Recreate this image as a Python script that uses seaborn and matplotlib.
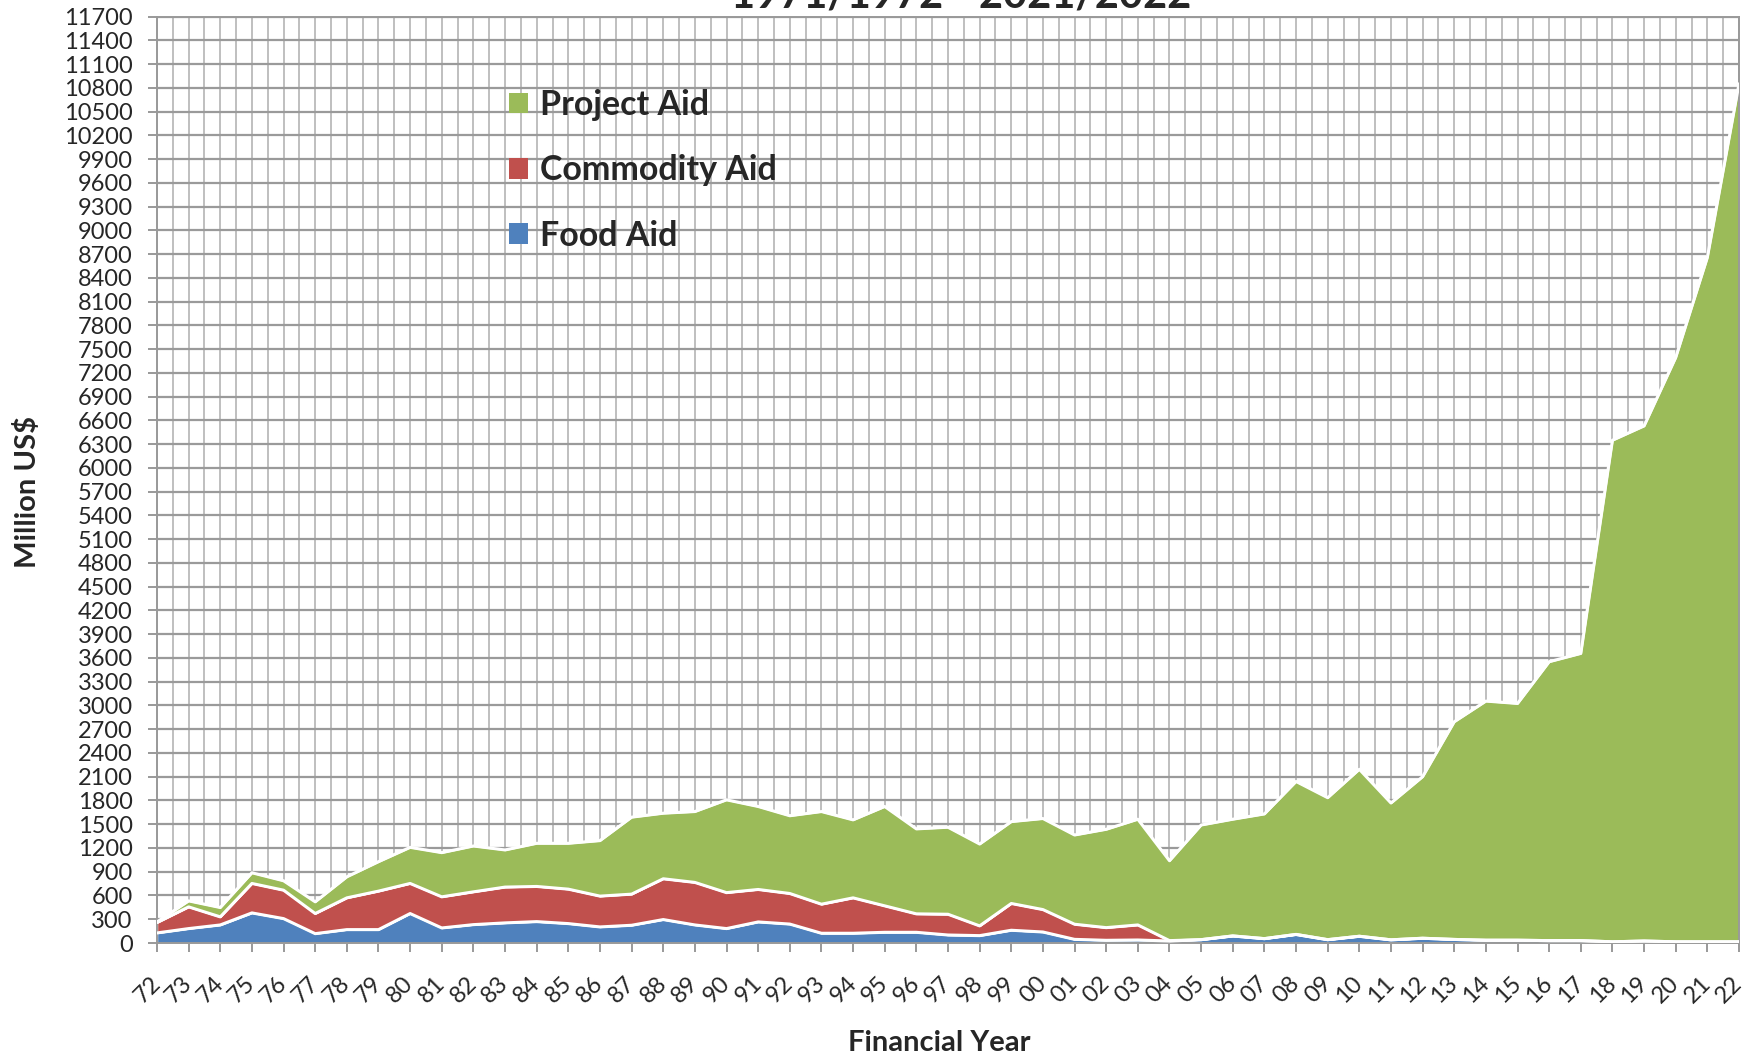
import numpy as np
import pandas as pd
import matplotlib
matplotlib.use("Agg")
import matplotlib.pyplot as plt
import seaborn as sns
from matplotlib.patches import Patch
from matplotlib.ticker import MultipleLocator

# Financial years 1971/72 .. 2021/22, labelled by the closing year
years = ['72', '73', '74', '75', '76', '77', '78', '79', '80', '81',
         '82', '83', '84', '85', '86', '87', '88', '89', '90', '91',
         '92', '93', '94', '95', '96', '97', '98', '99', '00', '01',
         '02', '03', '04', '05', '06', '07', '08', '09', '10', '11',
         '12', '13', '14', '15', '16', '17', '18', '19', '20', '21', '22']

# Million US$
food_aid = [127, 182, 228, 380, 308, 118, 169, 169, 372, 190,
            232, 254, 270, 245, 203, 224, 296, 228, 182, 266,
            239, 123, 123, 135, 135, 101, 93, 161, 139, 46,
            34, 38, 25, 42, 89, 55, 108, 42, 85, 40,
            60, 45, 35, 35, 30, 30, 15, 25, 15, 15, 15]
commodity_aid = [131, 274, 102, 372, 359, 254, 401, 486, 380, 393,
                 414, 452, 444, 435, 389, 393, 515, 537, 454, 410,
                 386, 367, 447, 334, 233, 262, 123, 338, 283, 191,
                 160, 190, 5, 0, 0, 0, 0, 0, 0, 0,
                 0, 0, 0, 0, 0, 0, 0, 0, 0, 0, 0]
project_aid = [8, 76, 118, 135, 119, 148, 266, 372, 456, 558,
               579, 469, 545, 579, 701, 972, 828, 895, 1172, 1048,
               982, 1170, 985, 1255, 1073, 1099, 1034, 1034, 1150, 1127,
               1242, 1335, 1009, 1448, 1474, 1575, 1932, 1793, 2109, 1728,
               2040, 2749, 3020, 2990, 3522, 3627, 6334, 6505, 7379, 8643, 10835]

series = ['Food Aid', 'Commodity Aid', 'Project Aid']
colors = {'Food Aid': '#4F81BD', 'Commodity Aid': '#C0504D', 'Project Aid': '#9BBB59'}

df = pd.DataFrame({'Year': years, 'Food Aid': food_aid,
                   'Commodity Aid': commodity_aid, 'Project Aid': project_aid})
df['x'] = np.arange(len(df))
cum = df[series].cumsum(axis=1)

sns.set_theme(style='white')
plt.rcParams['font.family'] = ['Lato', 'DejaVu Sans']

fig = plt.figure(figsize=(17.52, 10.62), dpi=100)
ax = fig.add_axes([157 / 1752, 1 - 943 / 1062, 1582 / 1752, 926.5 / 1062])

ax.stackplot(df['x'], [df[s] for s in series],
             colors=[colors[s] for s in series], zorder=2)
# white edges between the stacked layers
for s in series:
    sns.lineplot(x=df['x'], y=cum[s], color='white', lw=2.2, ax=ax, zorder=3)

ax.set_xlim(0, len(df) - 1)
ax.set_ylim(0, 11700)
ax.set_yticks(np.arange(0, 11701, 300))
ax.set_xticks(df['x'])
ax.set_xticklabels(years, rotation=45, ha='right', va='center', rotation_mode='anchor')
ax.xaxis.set_minor_locator(MultipleLocator(0.5))

ax.set_axisbelow(True)
ax.grid(axis='y', color='#9a9a9a', lw=1.6)
ax.grid(axis='x', which='both', color='#b4b4b4', lw=1.2)

ax.tick_params(axis='y', length=6.5, width=1.2, color='#888888', labelsize=17, pad=11, left=True)
ax.tick_params(axis='x', which='major', length=6.5, width=1.2, color='#888888',
               labelsize=17, pad=20, bottom=True)
ax.tick_params(axis='x', which='minor', length=0)
for sp in ax.spines.values():
    sp.set_color('#999999')
    sp.set_linewidth(1.4)

ax.set_xlabel('')
ax.set_ylabel('')
fig.text(28 / 1752, 1 - 492 / 1062, 'Million US$', rotation=90, ha='center', va='center',
         fontsize=21, fontweight='bold')
fig.text(939 / 1752, 1 - 1043 / 1062, 'Financial Year', ha='center', va='center',
         fontsize=21, fontweight='bold')
fig.text(961 / 1752, 1 - 7 / 1062, '1971/1972 - 2021/2022', ha='center', va='baseline',
         fontsize=30, fontweight='bold')

handles = [Patch(facecolor=colors[s], edgecolor='none', label=s) for s in reversed(series)]
ax.legend(handles=handles, loc='upper left', bbox_to_anchor=(492 / 1752, 1 - 72 / 1062),
          bbox_transform=fig.transFigure, frameon=False, borderpad=0,
          prop={'size': 24.5, 'weight': 'bold'}, handlelength=0.57, handleheight=0.57,
          handletextpad=0.33, labelspacing=0.98)

fig.savefig('out.png', dpi=100)
